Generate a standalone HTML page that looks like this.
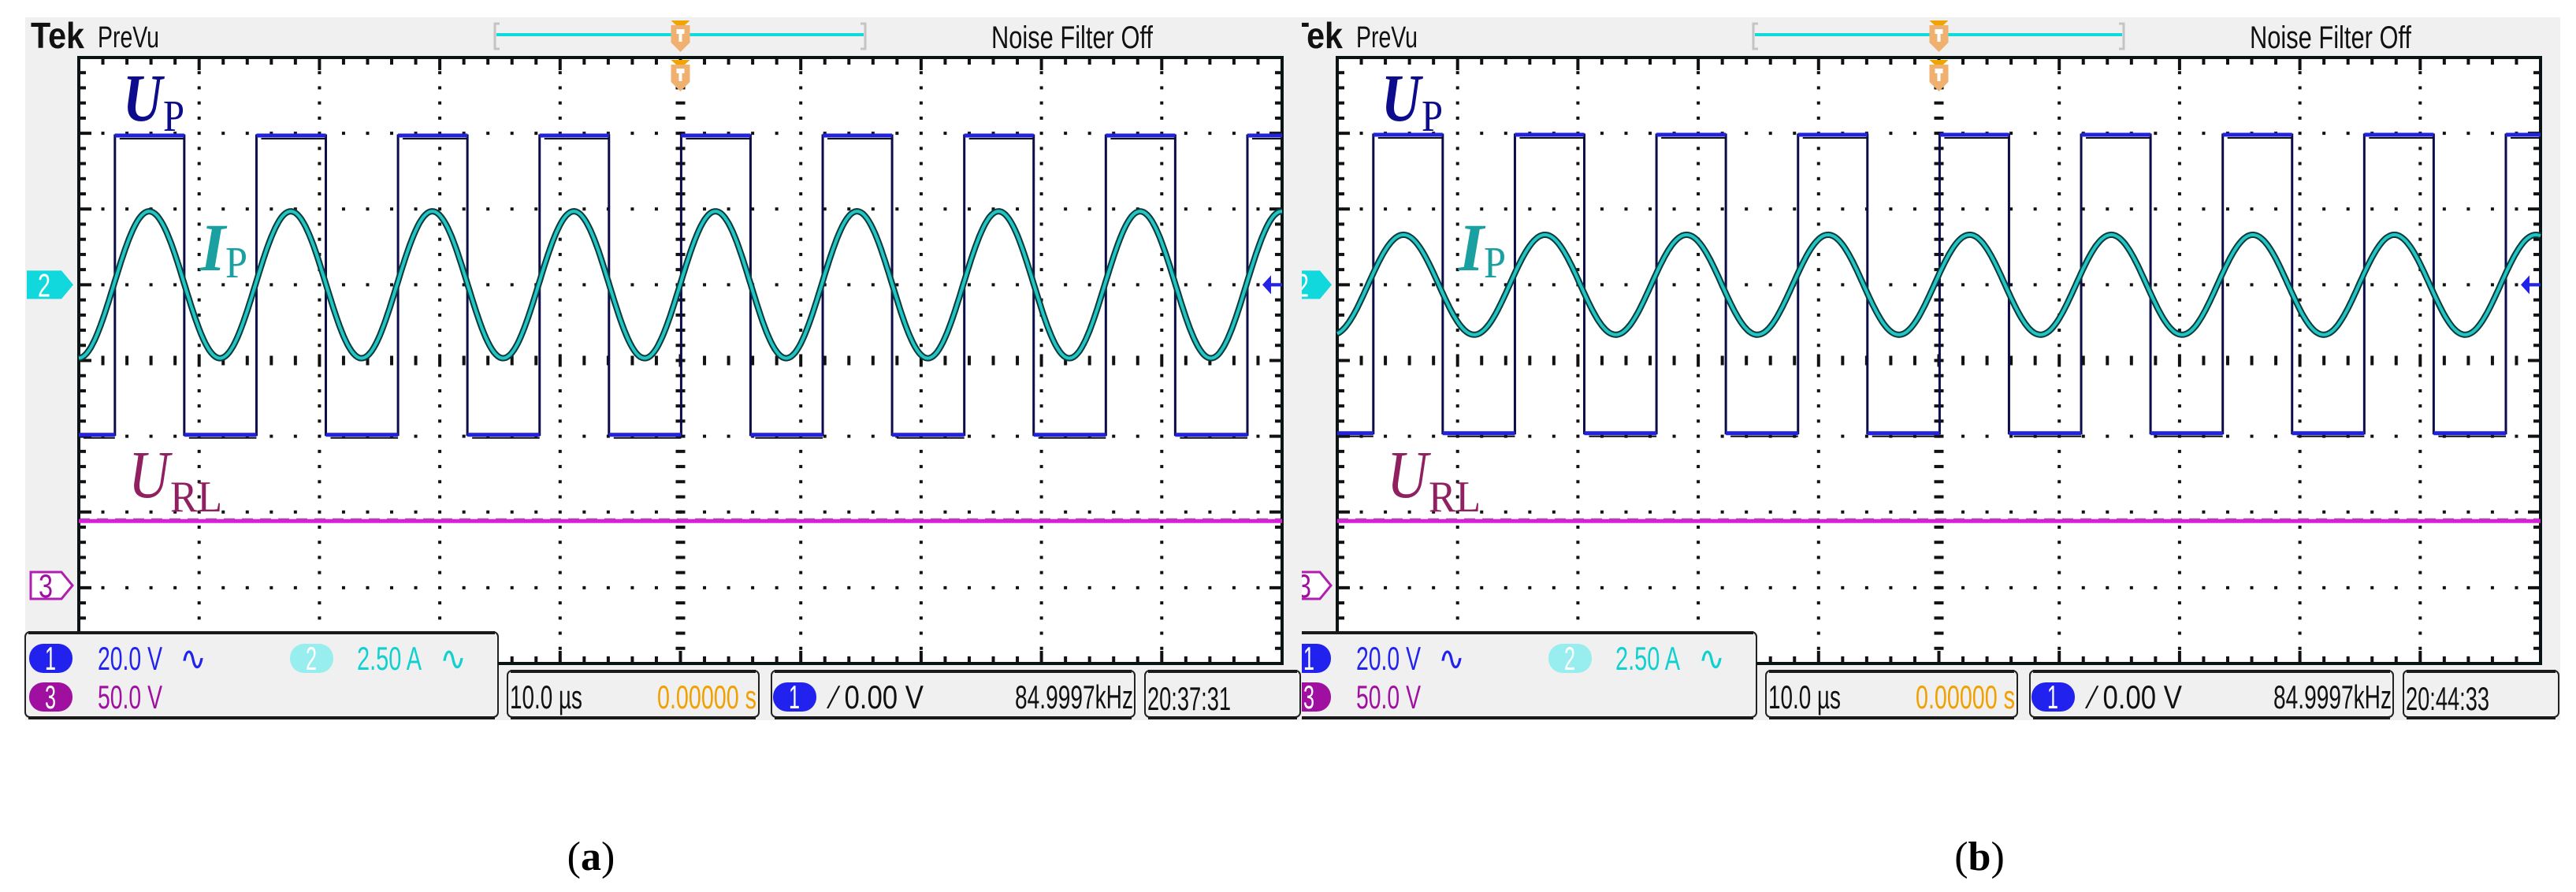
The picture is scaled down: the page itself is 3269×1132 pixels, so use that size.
<!DOCTYPE html>
<html><head><meta charset="utf-8">
<style>
html,body{margin:0;padding:0;background:#fff;}
svg{display:block;}
text{font-family:"Liberation Sans",sans-serif;}
.serif{font-family:"Liberation Serif",serif;}
</style></head>
<body>
<svg id="chart" width="3269" height="1132" viewBox="0 0 3269 1132" xmlns="http://www.w3.org/2000/svg">
<defs>
<clipPath id="clipB"><rect x="1652" y="0" width="1617" height="1132"/></clipPath>
</defs>
<g id="panelA"></g>
<g id="panelB" clip-path="url(#clipB)"></g>
<text class="serif" x="750" y="1104" font-size="52" text-anchor="middle">(<tspan font-weight="bold">a</tspan>)</text>
<text class="serif" x="2512" y="1104" font-size="52" text-anchor="middle">(<tspan font-weight="bold">b</tspan>)</text>
</svg>
<script>
// ---- data (in screen divisions, per panel a / b) ----
const panelNames = ['a', 'b'];
const timePerDivUs = [10, 10];
const freqKHz = [84.9997, 84.9997];
const dutyCycle = [0.49, 0.49];
const edgeDelayDiv = [0.30, 0.30];
const upHighDiv = [2.97, 2.98];
const upLowDiv = [-0.98, -0.96];
const ipCenterDiv = [1.0, 1.0];
const ipAmpDiv = [0.97, 0.66];
const ipPeakDiv = [0.585, 0.55];
const urlDiv = [-2.12, -2.12];
const clockTimes = ['20:37:31', '20:44:33'];

const NS = 'http://www.w3.org/2000/svg';
function mk(parent, tag, attrs, txt) {
  const e = document.createElementNS(NS, tag);
  for (const k in attrs) e.setAttribute(k, attrs[k]);
  if (txt !== undefined) e.textContent = txt;
  parent.appendChild(e);
  return e;
}

function drawPanel(i, g, ox) {
  const L = 100 + ox, R = 1627 + ox, T = 73, B = 842;
  const dw = (R - L) / 10, dh = (B - T) / 8;
  const cy = (T + B) / 2, cx = (L + R) / 2;
  const X = t => L + t * dw;
  const Y = v => cy - v * dh;

  let e = mk(g, 'rect', {x: 32 + ox, y: 22, width: 1620, height: 892, fill: '#f0f0f0'});
  
  
  e = mk(g, 'rect', {x: L, y: T, width: R - L, height: B - T, fill: '#fff'});
  
  

  const gd = mk(g, 'g', {fill: '#111'});
  
  
  for (let r = 1; r < 8; r++) {
    if (r === 4) continue;
    for (let m = 1; m < 50; m++) mk(gd, 'rect', {x: L + m * dw / 5 - 2, y: Y(4 - r) - 2, width: 4, height: 4});
  }
  for (let c = 1; c < 10; c++) {
    if (c === 5) continue;
    for (let m = 1; m < 40; m++) {
      if (m % 5 === 0) continue;
      mk(gd, 'rect', {x: X(c) - 2, y: T + m * dh / 5 - 2, width: 4, height: 4});
    }
  }
  for (let m = 1; m < 50; m++) {
    const len = (m % 5 === 0) ? 16 : 12;
    mk(gd, 'rect', {x: L + m * dw / 5 - 2, y: cy - len / 2, width: 4, height: len});
  }
  for (let m = 1; m < 40; m++) mk(gd, 'rect', {x: cx - 6, y: T + m * dh / 5 - 2, width: 12, height: 4});
  for (let m = 1; m < 50; m++) {
    const len = (m % 5 === 0) ? 16 : 9;
    mk(gd, 'rect', {x: L + m * dw / 5 - 2, y: T, width: 4, height: len});
    mk(gd, 'rect', {x: L + m * dw / 5 - 2, y: B - len, width: 4, height: len});
  }
  for (let m = 1; m < 40; m++) {
    const len = (m % 5 === 0) ? 16 : 9;
    mk(gd, 'rect', {x: L, y: T + m * dh / 5 - 2, width: len, height: 4});
    mk(gd, 'rect', {x: R - len, y: T + m * dh / 5 - 2, width: len, height: 4});
  }
  e = mk(g, 'rect', {x: L, y: T, width: R - L, height: B - T, fill: 'none', stroke: '#0a1414', 'stroke-width': 4});
  
  

  const periodDiv = (1000 / freqKHz[i]) / timePerDivUs[i];

  e = mk(g, 'line', {x1: L, x2: R, y1: Y(urlDiv[i]), y2: Y(urlDiv[i]), stroke: '#d81ed8', 'stroke-width': 5});
  
  
  mk(g, 'line', {x1: L, x2: R, y1: Y(urlDiv[i]) - 3, y2: Y(urlDiv[i]) - 3, stroke: '#501050', 'stroke-width': 1, 'stroke-dasharray': '14 9', opacity: 0.7});

  const edges = [];
  for (let k = -1; k < 12; k++) {
    const r = edgeDelayDiv[i] + k * periodDiv;
    edges.push([r, 1]);
    edges.push([r + dutyCycle[i] * periodDiv, 0]);
  }
  edges.sort((a, b) => a[0] - b[0]);
  let state = 0;
  for (const [t, s] of edges) if (t <= 0) state = s;
  let d = `M${X(0)},${Y(state ? upHighDiv[i] : upLowDiv[i])}`;
  const horiz = [];
  let segStart = 0;
  for (const [t, s] of edges) {
    if (t <= 0 || t >= 10) continue;
    horiz.push([segStart, t, state]);
    d += ` L${X(t)},${Y(state ? upHighDiv[i] : upLowDiv[i])} L${X(t)},${Y(s ? upHighDiv[i] : upLowDiv[i])}`;
    state = s; segStart = t;
  }
  horiz.push([segStart, 10, state]);
  d += ` L${X(10)},${Y(state ? upHighDiv[i] : upLowDiv[i])}`;
  e = mk(g, 'path', {d: d, fill: 'none', stroke: '#0c0c48', 'stroke-width': 3});
  
  
  for (const [a, b, s] of horiz) {
    const yy = Y(s ? upHighDiv[i] : upLowDiv[i]);
    mk(g, 'line', {x1: X(a), x2: X(b), y1: yy, y2: yy, stroke: '#2323dc', 'stroke-width': 5});
    mk(g, 'line', {x1: X(a) + 6, x2: X(b), y1: yy + 4, y2: yy + 4, stroke: '#111', 'stroke-width': 2});
  }

  let pts = [];
  for (let n = 0; n <= 600; n++) {
    const t = n * 10 / 600;
    const v = ipCenterDiv[i] + ipAmpDiv[i] * Math.cos(2 * Math.PI * (t - ipPeakDiv[i]) / periodDiv);
    pts.push(X(t).toFixed(1) + ',' + Y(v).toFixed(1));
  }
  e = mk(g, 'polyline', {points: pts.join(' '), fill: 'none', stroke: '#0a3a3a', 'stroke-width': 8});
  
  
  e = mk(g, 'polyline', {points: pts.join(' '), fill: 'none', stroke: '#22c4c4', 'stroke-width': 4});
  
  

  const ay = Y(ipCenterDiv[i]);
  e = mk(g, 'path', {d: `M${R - 25},${ay} L${R - 14},${ay - 12} L${R - 14},${ay + 12} Z M${R - 16},${ay - 2} h16 v4 h-16 Z`, fill: '#2323e8'});
  
  

  e = mk(g, 'path', {d: `M${34 + ox},${ay - 18} H${78 + ox} L${93 + ox},${ay} L${78 + ox},${ay + 18} H${34 + ox} Z`, fill: '#10d8dc'});
  
  
  mk(g, 'text', {x: 48 + ox, y: ay + 15, 'font-size': 42, fill: '#fff', textLength: 16, lengthAdjust: 'spacingAndGlyphs'}, '2');
  const m3 = Y(-2.97);
  e = mk(g, 'path', {d: `M${39 + ox},${m3 - 17} H${78 + ox} L${92 + ox},${m3} L${78 + ox},${m3 + 17} H${39 + ox} Z`, fill: '#fff', stroke: '#b020b0', 'stroke-width': 3});
  
  
  mk(g, 'text', {x: 49 + ox, y: m3 + 15, 'font-size': 42, fill: '#a010a0', textLength: 18, lengthAdjust: 'spacingAndGlyphs'}, '3');

  e = mk(g, 'text', {x: 39 + ox, y: 61, 'font-size': 46, 'font-weight': 'bold', fill: '#111', textLength: 68, lengthAdjust: 'spacingAndGlyphs'}, 'Tek');
  
  
  e = mk(g, 'text', {x: 124 + ox, y: 60, 'font-size': 38, fill: '#111', textLength: 78, lengthAdjust: 'spacingAndGlyphs'}, 'PreVu');
  
  
  e = mk(g, 'text', {x: 1258 + ox, y: 61, 'font-size': 40, fill: '#111', textLength: 205, lengthAdjust: 'spacingAndGlyphs'}, 'Noise Filter Off');
  
  
  const tl = mk(g, 'g', {});
  
  
  mk(tl, 'path', {d: `M${634 + ox},30 h-6 v32 h6 M${1092 + ox},30 h6 v32 h-6`, fill: 'none', stroke: '#c4c4c4', 'stroke-width': 3});
  mk(tl, 'line', {x1: 630 + ox, x2: 1096 + ox, y1: 44, y2: 44, stroke: '#10dada', 'stroke-width': 4});
  const tx = cx;
  [[26, 40], [76, 90]].forEach(([y0, y1]) => {
    mk(tl, 'path', {d: `M${tx - 12},${y0} H${tx + 12} L${tx},${y0 + 11} Z`, fill: '#f0a400'});
    mk(tl, 'path', {d: `M${tx - 12},${y1 - 8} H${tx + 12} V${y1 + 14} L${tx},${y1 + 26} L${tx - 12},${y1 + 14} Z`, fill: '#f0b070'});
    mk(tl, 'path', {d: `M${tx - 5},${y1 - 3} h10 v6 h-3 v10 h-4 v-10 h-3 Z`, fill: '#fff'});
  });

  e = mk(g, 'text', {class: 'serif', x: 156 + ox, y: 153, 'font-size': 86, 'font-style': 'italic', 'font-weight': 'bold', fill: '#0c0c8c', textLength: 50, lengthAdjust: 'spacingAndGlyphs'}, 'U');
  
  
  mk(g, 'text', {class: 'serif', x: 207 + ox, y: 166, 'font-size': 56, fill: '#0c0c8c', textLength: 27, lengthAdjust: 'spacingAndGlyphs'}, 'P');
  e = mk(g, 'text', {class: 'serif', x: 254 + ox, y: 343, 'font-size': 86, 'font-style': 'italic', 'font-weight': 'bold', fill: '#1aa0a0', textLength: 32, lengthAdjust: 'spacingAndGlyphs'}, 'I');
  
  
  mk(g, 'text', {class: 'serif', x: 286 + ox, y: 352, 'font-size': 56, fill: '#1aa0a0', textLength: 28, lengthAdjust: 'spacingAndGlyphs'}, 'P');
  e = mk(g, 'text', {class: 'serif', x: 163 + ox, y: 631, 'font-size': 86, 'font-style': 'italic', fill: '#902060', textLength: 52, lengthAdjust: 'spacingAndGlyphs'}, 'U');
  
  
  mk(g, 'text', {class: 'serif', x: 216 + ox, y: 649, 'font-size': 56, fill: '#902060', textLength: 66, lengthAdjust: 'spacingAndGlyphs'}, 'RL');

  function box(x0, x1, y0, y1, name) {
    const b = mk(g, 'g', {});
    
    
    mk(b, 'rect', {x: x0 + ox, y: y0, width: x1 - x0, height: y1 - y0, rx: 6, fill: '#f0f0f0', stroke: '#222', 'stroke-width': 2});
    mk(b, 'line', {x1: x0 + 4 + ox, x2: x1 - 4 + ox, y1: y0 + 1, y2: y0 + 1, stroke: '#1a1a1a', 'stroke-width': 4});
    mk(b, 'line', {x1: x0 + 4 + ox, x2: x1 - 4 + ox, y1: y1 + 1, y2: y1 + 1, stroke: '#1a1a1a', 'stroke-width': 4});
    return b;
  }
  function pill(parent, x0, y0, fill, label, tc) {
    mk(parent, 'rect', {x: x0 + ox, y: y0, width: 55, height: 37, rx: 18, fill: fill});
    mk(parent, 'text', {x: x0 + 20 + ox, y: y0 + 33, 'font-size': 42, fill: tc, textLength: 14, lengthAdjust: 'spacingAndGlyphs'}, label);
  }
  function txt(parent, x, y, s, w, fill, name) {
    const t = mk(parent, 'text', {x: x + ox, y: y, 'font-size': 42, fill: fill, textLength: w, lengthAdjust: 'spacingAndGlyphs'}, s);
    
    
    return t;
  }
  const b1 = box(32, 632, 802, 910, 'channel-settings-box');
  pill(b1, 37, 817, '#2222ee', '1', '#fff');
  txt(b1, 124, 850, '20.0 V', 82, '#2222ee', 'ch1-scale');
  txt(b1, 228, 850, '∿', 34, '#2222ee', 'ch1-coupling');
  pill(b1, 368, 817, '#98eeee', '2', '#fff');
  txt(b1, 453, 850, '2.50 A', 82, '#10d0d0', 'ch2-scale');
  txt(b1, 558, 850, '∿', 34, '#10d0d0', 'ch2-coupling');
  pill(b1, 37, 866, '#a010a0', '3', '#fff');
  txt(b1, 124, 899, '50.0 V', 82, '#a010a0', 'ch3-scale');
  mk(g, 'line', {x1: 632 + ox, x2: R, y1: B, y2: B, stroke: '#0a1414', 'stroke-width': 4});
  const b2 = box(644, 963, 851, 910, 'timebase-box');
  txt(b2, 647, 899, timePerDivUs[i].toFixed(1) + ' µs', 92, '#111', 'timebase-scale');
  txt(b2, 834, 899, '0.00000 s', 126, '#f0a000', 'horizontal-position');
  const b3 = box(979, 1440, 851, 910, 'trigger-box');
  pill(b3, 981, 866, '#2222ee', '1', '#fff');
  txt(b3, 1056, 899, '⁄ 0.00 V', 116, '#111', 'trigger-level');
  txt(b3, 1288, 899, freqKHz[i].toFixed(4) + 'kHz', 150, '#111', 'trigger-frequency');
  const b4 = box(1453, 1650, 851, 910, 'clock-box');
  txt(b4, 1456, 901, clockTimes[i], 106, '#111', 'clock-time');
}

drawPanel(0, document.getElementById('panelA'), 0);
drawPanel(1, document.getElementById('panelB'), 1597);
</script>
</body></html>
